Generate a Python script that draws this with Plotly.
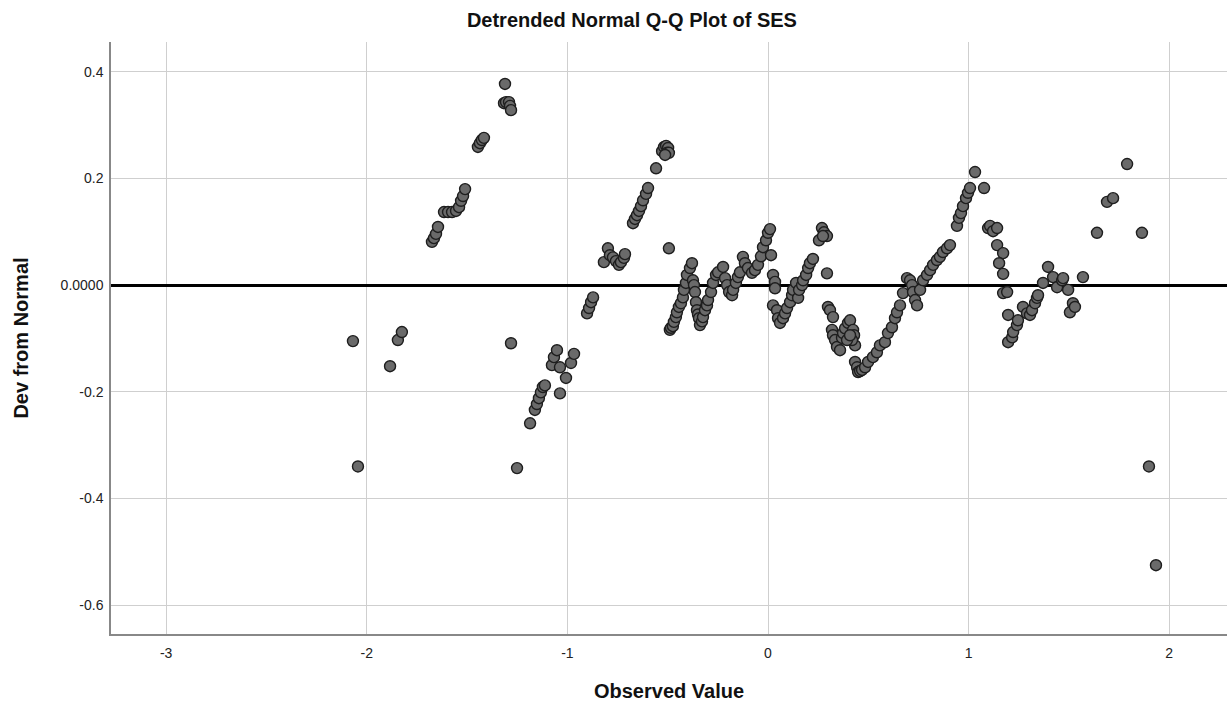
import plotly.graph_objects as go

observed = [
    -2.069, -2.044, -1.884, -1.845, -1.825,
    -1.675, -1.665, -1.655, -1.645, -1.615, -1.595, -1.575, -1.555, -1.540, -1.530, -1.520, -1.510,
    -1.446, -1.436, -1.426, -1.416,
    -1.311, -1.316, -1.306, -1.291, -1.286, -1.281,
    -1.281, -1.251,
    -1.186, -1.162, -1.152, -1.142, -1.132, -1.122, -1.112,
    -1.077, -1.067, -1.052, -1.037, -1.037, -1.007, -0.982, -0.967,
    -0.902, -0.892, -0.882, -0.872,
    -0.818, -0.798, -0.788, -0.773, -0.758, -0.743, -0.733, -0.718, -0.713,
    -0.673, -0.663, -0.653, -0.643, -0.633, -0.623, -0.608, -0.598, -0.558,
    -0.528, -0.518, -0.508, -0.498, -0.503, -0.494, -0.513,
    -0.494,
    -0.489, -0.484, -0.474, -0.469, -0.459, -0.454, -0.444, -0.434, -0.424, -0.419, -0.409, -0.404, -0.389, -0.379,
    -0.374, -0.369, -0.364, -0.359, -0.354, -0.349, -0.344, -0.339,
    -0.329, -0.324, -0.314, -0.304, -0.299, -0.284, -0.274, -0.259, -0.249, -0.224,
    -0.214, -0.204, -0.194, -0.179, -0.174, -0.160, -0.150, -0.140, -0.125,
    -0.115, -0.100, -0.080, -0.065, -0.050, -0.035, -0.025, -0.010, 0.000, 0.010, 0.015,
    0.025, 0.035, 0.035, 0.025, 0.045, 0.050, 0.060, 0.075, 0.085, 0.095, 0.110, 0.120, 0.125,
    0.140, 0.150, 0.155, 0.170, 0.175, 0.190, 0.200, 0.209, 0.224,
    0.269, 0.279, 0.294, 0.254, 0.274, 0.294,
    0.299, 0.309, 0.324, 0.319, 0.324, 0.334, 0.344, 0.359, 0.369, 0.374, 0.384, 0.399, 0.409,
    0.424, 0.429, 0.434, 0.419, 0.394, 0.409,
    0.434, 0.444, 0.449, 0.459, 0.469, 0.484, 0.499, 0.523, 0.543, 0.558, 0.583, 0.598, 0.618,
    0.633, 0.643, 0.658, 0.673, 0.693, 0.708, 0.718, 0.723, 0.733, 0.743,
    0.758, 0.773, 0.793, 0.808, 0.823, 0.842, 0.857, 0.872, 0.892, 0.907,
    0.942, 0.952, 0.962, 0.972, 0.987, 0.997, 1.007, 1.032, 1.077,
    1.097, 1.107, 1.122, 1.142, 1.142, 1.172, 1.152, 1.172,
    1.172, 1.192, 1.197, 1.197, 1.217, 1.222, 1.241, 1.246, 1.271, 1.291, 1.306, 1.316,
    1.331, 1.341, 1.346, 1.371, 1.396, 1.421, 1.441, 1.466, 1.471, 1.496, 1.505, 1.520, 1.530, 1.570,
    1.640, 1.690, 1.720, 1.790, 1.864, 1.899, 1.934,
]
deviation = [
    -0.105, -0.340, -0.152, -0.103, -0.088,
    0.081, 0.088, 0.096, 0.109, 0.137, 0.137, 0.137, 0.139, 0.146, 0.158, 0.167, 0.180,
    0.259, 0.266, 0.272, 0.276,
    0.377, 0.341, 0.343, 0.343, 0.336, 0.328,
    -0.109, -0.343,
    -0.259, -0.234, -0.223, -0.212, -0.201, -0.191, -0.188,
    -0.150, -0.135, -0.122, -0.154, -0.203, -0.174, -0.146, -0.129,
    -0.053, -0.043, -0.032, -0.023,
    0.043, 0.069, 0.056, 0.052, 0.045, 0.038, 0.043, 0.051, 0.058,
    0.116, 0.124, 0.131, 0.139, 0.148, 0.159, 0.171, 0.182, 0.219,
    0.251, 0.259, 0.261, 0.257, 0.248, 0.248, 0.244,
    0.069,
    -0.084, -0.080, -0.077, -0.069, -0.060, -0.051, -0.041, -0.034, -0.023, -0.009, 0.004, 0.019, 0.032, 0.041,
    0.009, 0.000, -0.013, -0.032, -0.047, -0.055, -0.062, -0.075,
    -0.068, -0.060, -0.047, -0.038, -0.028, -0.013, 0.004, 0.019, 0.024, 0.034,
    0.013, 0.000, -0.013, -0.019, -0.009, 0.004, 0.015, 0.024, 0.053,
    0.041, 0.032, 0.023, 0.028, 0.038, 0.054, 0.071, 0.084, 0.098, 0.105, 0.056,
    0.019, 0.006, -0.006, -0.038, -0.047, -0.062, -0.071, -0.062, -0.053, -0.043, -0.032, -0.019, -0.009,
    0.004, -0.024, -0.009, 0.000, 0.009, 0.019, 0.032, 0.041, 0.049,
    0.107, 0.099, 0.092, 0.084, 0.092, 0.022,
    -0.041, -0.047, -0.060, -0.084, -0.094, -0.103, -0.116, -0.122, -0.099, -0.090, -0.081, -0.071, -0.066,
    -0.084, -0.094, -0.113, -0.103, -0.103, -0.094,
    -0.144, -0.154, -0.163, -0.161, -0.159, -0.154, -0.144, -0.135, -0.126, -0.113, -0.107, -0.090, -0.079,
    -0.062, -0.051, -0.038, -0.015, 0.013, 0.009, 0.000, -0.013, -0.028, -0.038,
    -0.009, 0.009, 0.019, 0.028, 0.038, 0.047, 0.053, 0.062, 0.069, 0.075,
    0.111, 0.126, 0.135, 0.148, 0.163, 0.173, 0.182, 0.212, 0.182,
    0.107, 0.111, 0.101, 0.107, 0.075, 0.060, 0.041, 0.021,
    -0.015, -0.013, -0.056, -0.107, -0.098, -0.088, -0.075, -0.066, -0.041, -0.053, -0.056, -0.047,
    -0.034, -0.024, -0.019, 0.004, 0.034, 0.015, -0.004, 0.009, 0.013, -0.009, -0.051, -0.034, -0.041, 0.015,
    0.098, 0.156, 0.163, 0.227, 0.098, -0.340, -0.525,
]

x_ticks = [-3, -2, -1, 0, 1, 2]
y_ticks = [0.4, 0.2, 0.0, -0.2, -0.4, -0.6]
y_tick_labels = ["0.4", "0.2", "0.0000", "-0.2", "-0.4", "-0.6"]

fig = go.Figure()
fig.add_trace(go.Scatter(
    x=observed, y=deviation, mode="markers",
    marker=dict(size=11, color="#6a6a6a", line=dict(color="#1e1e1e", width=1.4)),
    showlegend=False, hoverinfo="x+y",
))

font_family = "Liberation Sans, Arial, sans-serif"
fig.update_layout(
    width=1227, height=710,
    margin=dict(l=111, r=0, t=42, b=76),
    paper_bgcolor="white", plot_bgcolor="white",
    font=dict(family=font_family, size=14, color="#222222"),
    title=dict(text="<b>Detrended Normal Q-Q Plot of SES</b>", x=0.515, xref="container",
               xanchor="center", y=0.972, yref="container", yanchor="middle",
               font=dict(size=20, color="#111111", family=font_family)),
    xaxis=dict(
        range=[-3.275, 2.288], tickvals=x_ticks, ticktext=[str(v) for v in x_ticks],
        showgrid=True, gridcolor="#cfcfcf", gridwidth=1,
        showline=True, linecolor="#888888", linewidth=1.5, mirror=False,
        zeroline=False, ticks="", ticklen=0, ticklabelstandoff=5,
        tickfont=dict(size=14, color="#222222"),
        title=dict(text="<b>Observed Value</b>", font=dict(size=20, color="#111111"), standoff=24),
    ),
    yaxis=dict(
        range=[-0.654, 0.4557], tickvals=y_ticks, ticktext=y_tick_labels,
        showgrid=True, gridcolor="#cfcfcf", gridwidth=1,
        showline=True, linecolor="#888888", linewidth=1.5, mirror=False,
        zeroline=True, zerolinecolor="#000000", zerolinewidth=3,
        ticks="", ticklen=0, ticklabelstandoff=3,
        tickfont=dict(size=14, color="#222222"),
        title=dict(text="<b>Dev from Normal</b>", font=dict(size=20, color="#111111"), standoff=27),
    ),
)

fig.write_html("out.html")
